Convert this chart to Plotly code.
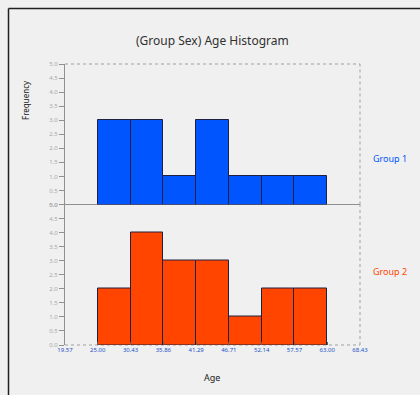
import plotly.graph_objects as go
from plotly.subplots import make_subplots

# ---- data ----
bin_edges = [19.57, 25.00, 30.43, 35.86, 41.29, 46.71, 52.14, 57.57, 63.00, 68.43]
tick_labels = ["19.57", "25.00", "30.43", "35.86", "41.29", "46.71", "52.14", "57.57", "63.00", "68.43"]
group1_counts = [0, 3, 3, 1, 3, 1, 1, 1, 0]
group2_counts = [0, 2, 4, 3, 3, 1, 2, 2, 0]
groups = ["Group 1", "Group 2"]
y_ticks = [0.0, 0.5, 1.0, 1.5, 2.0, 2.5, 3.0, 3.5, 4.0, 4.5, 5.0]

centers = [(a + b) / 2 for a, b in zip(bin_edges[:-1], bin_edges[1:])]
widths = [b - a for a, b in zip(bin_edges[:-1], bin_edges[1:])]

BG = "#f0f0f0"
FONT = "Noto Sans"
colors = ["#0055ff", "#ff4500"]

fig = make_subplots(rows=2, cols=1, shared_xaxes=True, vertical_spacing=0)

for i, (counts, col) in enumerate([(group1_counts, colors[0]), (group2_counts, colors[1])]):
    idx = [k for k, c in enumerate(counts) if c > 0]
    fig.add_trace(go.Bar(x=[centers[k] for k in idx], y=[counts[k] for k in idx], width=[widths[k] for k in idx],
                         marker=dict(color=col, line=dict(color="#202040", width=1)),
                         showlegend=False, hoverinfo="skip"), row=i + 1, col=1)

W, H = 420, 395
L, R, T, B = 65, 60, 64, 50
pw, ph = W - L - R, H - T - B

def px(x):
    return (x - L) / pw

def py(y):
    return (H - B - y) / ph

for r in (1, 2):
    fig.update_yaxes(range=[0, 5], tickvals=y_ticks, ticktext=[f"{v:.1f}" for v in y_ticks],
                     tickfont=dict(size=6, color="#a8a8a8", family=FONT), ticks="outside", ticklen=5,
                     tickcolor="#909090", showline=True, linecolor="#909090", linewidth=1,
                     showgrid=False, zeroline=False, row=r, col=1)
    fig.update_xaxes(range=[bin_edges[0], bin_edges[-1]], tickvals=bin_edges, showgrid=False, zeroline=False,
                     showline=False, row=r, col=1)

fig.update_xaxes(ticktext=tick_labels, tickfont=dict(size=6, color="#2450c8", family=FONT),
                 ticks="inside", ticklen=3, tickcolor="#606060", row=2, col=1)
fig.update_xaxes(showticklabels=False, ticks="", row=1, col=1)

shapes = []
dash = dict(color="#a0a0a0", width=1, dash="dot")
# upper panel top and right
shapes.append(dict(type="line", xref="paper", yref="paper", x0=0, x1=1, y0=1, y1=1, line=dash, layer="below"))
shapes.append(dict(type="line", xref="paper", yref="paper", x0=1, x1=1, y0=0.5, y1=1, line=dash, layer="below"))
# middle solid line
shapes.append(dict(type="line", xref="paper", yref="paper", x0=0, x1=1, y0=0.5, y1=0.5,
                   line=dict(color="#909090", width=1), layer="below"))
# lower panel bottom and right
shapes.append(dict(type="line", xref="paper", yref="paper", x0=0, x1=1, y0=0, y1=0, line=dash, layer="below"))
shapes.append(dict(type="line", xref="paper", yref="paper", x0=1, x1=1, y0=0, y1=0.5, line=dash, layer="below"))
# outer frame (top and left)
shapes.append(dict(type="line", xref="paper", yref="paper", x0=px(8.5), x1=px(8.5), y0=py(400), y1=py(8.5),
                   line=dict(color="#202020", width=1.5)))
shapes.append(dict(type="line", xref="paper", yref="paper", x0=px(8.5), x1=px(425), y0=py(8.5), y1=py(8.5),
                   line=dict(color="#202020", width=1.5)))

annotations = [
    dict(text="(Group Sex) Age Histogram", x=px(212), y=py(40), xref="paper", yref="paper", showarrow=False,
         font=dict(size=12, color="#303030", family=FONT), xanchor="center", yanchor="middle"),
    dict(text=groups[0], x=px(390), y=py(158), xref="paper", yref="paper", showarrow=False,
         font=dict(size=9, color=colors[0], family=FONT), xanchor="center", yanchor="middle"),
    dict(text=groups[1], x=px(390), y=py(271), xref="paper", yref="paper", showarrow=False,
         font=dict(size=9, color=colors[1], family=FONT), xanchor="center", yanchor="middle"),
    dict(text="Frequency", x=px(25), y=py(100), xref="paper", yref="paper", showarrow=False, textangle=-90,
         font=dict(size=8, color="#202020", family=FONT), xanchor="center", yanchor="middle"),
    dict(text="Age", x=px(212), y=py(377), xref="paper", yref="paper", showarrow=False,
         font=dict(size=9, color="#202020", family=FONT), xanchor="center", yanchor="middle"),
]

fig.update_layout(width=W, height=H, margin=dict(l=L, r=R, t=T, b=B), paper_bgcolor=BG, plot_bgcolor=BG,
                  bargap=0, shapes=shapes, annotations=annotations, showlegend=False)

fig.write_html("out.html")
